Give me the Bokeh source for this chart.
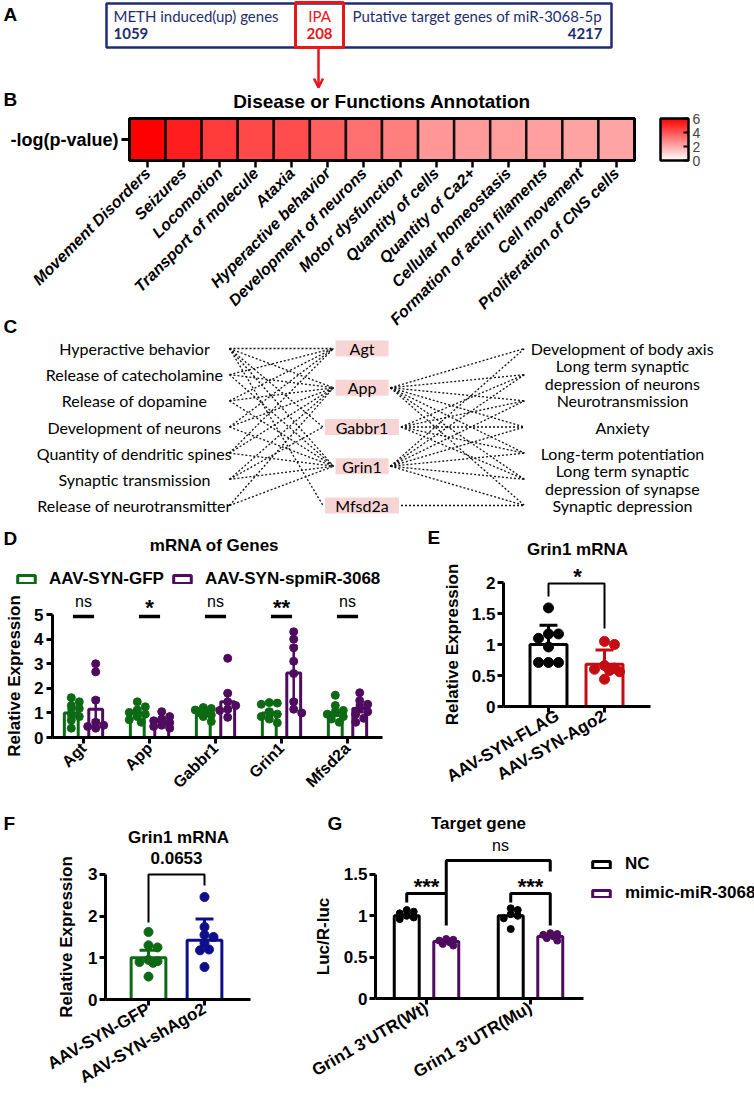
import math
import numpy as np
from bokeh.plotting import figure
from bokeh.models import (Range1d, FixedTicker, ColumnDataSource, LinearColorMapper, LinearAxis,
                          ColorBar, Legend, LegendItem, Arrow, OpenHead, AllLabels)
from bokeh.layouts import column, row
from bokeh.transform import transform
from bokeh.embed import file_html
from bokeh.resources import INLINE
from bokeh.core.properties import value

# ---------------------------------------------------------------- data
venn_sets = ["METH induced(up)  genes", "IPA", "Putative target genes of miR-3068-5p"]
venn_counts = [1059, 208, 4217]

annot_title = "Disease or Functions Annotation"
annot_row = "-log(p-value)"
annot_terms = ["Movement Disorders", "Seizures", "Locomotion", "Transport of molecule", "Ataxia",
               "Hyperactive behavior", "Development of neurons", "Motor dysfunction",
               "Quantity of cells", "Quantity of Ca2+", "Cellular homeostasis",
               "Formation of actin filaments", "Cell movement", "Proliferation of CNS cells"]
annot_logp = [6.0, 5.3, 4.6, 4.3, 4.2, 3.75, 3.35, 3.0, 2.45, 2.35, 2.3, 2.25, 2.2, 2.15]

net_left_terms = ["Hyperactive behavior", "Release of catecholamine", "Release of dopamine",
                  "Development of neurons", "Quantity of dendritic spines",
                  "Synaptic transmission", "Release of neurotransmitter"]
net_genes = ["Agt", "App", "Gabbr1", "Grin1", "Mfsd2a"]
net_right_terms = ["Development of body axis", "Long term synaptic\ndepression of neurons",
                   "Neurotransmission", "Anxiety", "Long-term potentiation",
                   "Long term synaptic\ndepression of synapse", "Synaptic depression"]
net_left_edges = [(0, 0), (0, 1), (0, 2), (0, 3), (0, 4), (1, 0), (1, 1), (1, 3), (2, 0), (2, 1),
                  (2, 3), (3, 0), (3, 1), (3, 3), (4, 0), (4, 1), (4, 3), (5, 1), (5, 2), (5, 3),
                  (6, 1), (6, 3)]
net_right_edges = [(1, 0), (1, 1), (1, 2), (1, 3), (1, 4), (1, 5), (1, 6),
                   (2, 1), (2, 2), (2, 3), (2, 4), (2, 5),
                   (3, 0), (3, 1), (3, 2), (3, 3), (3, 4), (3, 5), (3, 6),
                   (4, 6)]

d_title = "mRNA of Genes"
d_genes = ["Agt", "App", "Gabbr1", "Grin1", "Mfsd2a"]
d_groups = ["AAV-SYN-GFP", "AAV-SYN-spmiR-3068"]
d_gfp_mean = [1.0, 1.0, 1.0, 1.0, 1.0]
d_gfp_err = [0.15, 0.1, 0.06, 0.12, 0.12]
d_spmir_mean = [1.15, 0.65, 1.45, 2.62, 1.18]
d_spmir_err = [0.45, 0.1, 0.35, 1.1, 0.15]
d_gfp_pts = [[1.62, 1.45, 1.3, 1.18, 0.98, 0.85, 0.7, 0.38],
             [1.45, 1.25, 1.12, 1.02, 0.95, 0.85, 0.72, 0.62],
             [1.22, 1.18, 1.12, 1.05, 1.0, 0.92, 0.85, 0.65],
             [1.42, 1.4, 1.35, 1.05, 0.95, 0.85, 0.75, 0.6],
             [1.72, 1.3, 1.1, 1.0, 0.95, 0.85, 0.75, 0.62]]
d_spmir_pts = [[3.0, 2.67, 1.52, 0.62, 0.5, 0.45, 0.38],
               [1.05, 0.85, 0.75, 0.68, 0.6, 0.5, 0.45, 0.38],
               [3.22, 1.8, 1.45, 1.3, 1.15, 1.1, 0.82],
               [4.3, 4.0, 3.65, 3.1, 2.6, 1.45, 1.15, 1.0],
               [1.82, 1.5, 1.35, 1.2, 1.05, 0.95, 0.78, 0.62]]
d_sig = ["ns", "*", "ns", "**", "ns"]

e_title = "Grin1 mRNA"
e_groups = ["AAV-SYN-FLAG", "AAV-SYN-Ago2"]
e_mean = [1.0, 0.68]
e_err = [0.31, 0.23]
e_pts = [[1.59, 1.17, 1.17, 1.1, 0.96, 0.71, 0.71, 0.71],
         [1.05, 1.0, 0.66, 0.62, 0.6, 0.58, 0.56, 0.44]]
e_sig = "*"

f_title = "Grin1 mRNA"
f_groups = ["AAV-SYN-GFP", "AAV-SYN-shAgo2"]
f_mean = [1.0, 1.42]
f_err = [0.18, 0.51]
f_pts = [[1.62, 1.3, 1.25, 0.95, 0.92, 0.9, 0.88, 0.55],
         [2.46, 1.74, 1.55, 1.5, 1.35, 1.2, 1.18, 0.78]]
f_p = "0.0653"

g_title = "Target gene"
g_cats = ["Grin1 3'UTR(Wt)", "Grin1 3'UTR(Mu)"]
g_series = ["NC", "mimic-miR-3068"]
g_nc_mean = [1.0, 1.0]
g_mimic_mean = [0.69, 0.75]
g_nc_pts = [[1.07, 1.05, 1.03, 1.0, 0.98, 0.96], [1.09, 1.07, 1.02, 1.0, 0.97, 0.84]]
g_mimic_pts = [[0.72, 0.71, 0.7, 0.68, 0.66, 0.64], [0.79, 0.78, 0.77, 0.75, 0.73, 0.7]]
g_sig_within = ["***", "***"]
g_sig_between = "ns"

# ---------------------------------------------------------------- style
ARIAL = "Liberation Sans"
CAL = "Lato"
GREEN = "#0c6a14"
PURPLE = "#4e0b5f"
RED_E = "#c40c12"
BLUE_F = "#0e0e8a"
NAVY = "#1f2d6e"
RED_A = "#e8151b"
PINK = "#f8d5d5"


def canvas(X0, X1, Y0, Y1, ax=0.0, bx=1.0, ay=0.0, by=-1.0):
    """Figure whose frame is the whole canvas; data x -> px = ax + bx*x, y -> py = ay - by*y."""
    xr = Range1d((X0 - ax) / bx, (X1 - ax) / bx)
    yr = Range1d((ay - Y1) / by, (ay - Y0) / by)
    p = figure(width=X1 - X0, height=Y1 - Y0, x_range=xr, y_range=yr, output_backend="svg",
               toolbar_location=None, min_border=0, x_axis_location=None, y_axis_location=None)
    p.xgrid.visible = False
    p.ygrid.visible = False
    p.outline_line_color = None
    fx = lambda px: (px - ax) / bx
    fy = lambda py: (ay - py) / by
    return p, fx, fy


def axis_style(ax, size="17px", style="bold"):
    ax.axis_line_width = 3
    ax.axis_line_color = "black"
    ax.major_tick_line_width = 3
    ax.major_tick_line_color = "black"
    ax.major_tick_out = 6
    ax.major_tick_in = 0
    ax.minor_tick_line_color = None
    ax.major_label_text_font = ARIAL
    ax.major_label_text_font_size = size
    ax.major_label_text_font_style = style
    ax.major_label_text_color = "black"
    ax.axis_label_text_font = ARIAL
    ax.axis_label_text_font_size = "17px"
    ax.axis_label_text_font_style = "bold"
    ax.axis_label_text_color = "black"
    ax.major_label_policy = AllLabels()


def chart_axes(p, y_at_x, x_bounds, y_bounds, xticks, xlabels, yticks, ylabel, angle,
               x_size="17px", y_lab_standoff=8, y_tick_standoff=2, x_tick_standoff=2):
    xa = LinearAxis(fixed_location=0, bounds=x_bounds, ticker=FixedTicker(ticks=xticks),
                    major_label_overrides={t: l for t, l in zip(xticks, xlabels)},
                    major_label_orientation=angle)
    axis_style(xa, size=x_size)
    xa.major_label_standoff = x_tick_standoff
    ya = LinearAxis(fixed_location=y_at_x, bounds=y_bounds, ticker=FixedTicker(ticks=yticks),
                    axis_label=ylabel)
    axis_style(ya)
    ya.major_label_standoff = y_tick_standoff
    ya.axis_label_standoff = y_lab_standoff
    p.add_layout(xa, "below")
    p.add_layout(ya, "left")


def put_text(p, fx, fy, px, py, text, size="17px", style="bold", align="center", font=ARIAL,
             color="black"):
    p.text(x=[fx(px)], y=[fy(py)], text=[text], text_font=value(font), text_font_size=size,
           text_font_style=style, text_align=align, text_baseline="middle", text_color=color)


def letter(p, fx, fy, px, py, text):
    put_text(p, fx, fy, px, py, text, size="19px", align="left")


def swarm(vals, ppu_x, ppu_y, diam, half_px):
    order = sorted(range(len(vals)), key=lambda i: -vals[i])
    placed = []
    offs = [0.0] * len(vals)
    step = diam * 0.5
    cands = [0.0]
    m = 1
    while m * step <= half_px + 1e-9:
        cands += [m * step, -m * step]
        m += 1
    for i in order:
        y = vals[i] * ppu_y
        best, best_d = 0.0, -1.0
        for c in cands:
            ds = [math.hypot(c - px, y - py) for px, py in placed]
            dmin = min(ds) if ds else 1e9
            if dmin >= diam * 0.8:
                best = c
                break
            if dmin > best_d:
                best_d, best = dmin, c
        placed.append((best, y))
        offs[i] = best / ppu_x
    return offs


def dots(p, center, vals, ppu_x, ppu_y, diam, half_px, color):
    offs = swarm(vals, ppu_x, ppu_y, diam, half_px)
    p.scatter(x=[center + o for o in offs], y=vals, size=diam, marker="circle",
              fill_color=color, line_color=color)


def errbars(p, xs, means, errs, colors, cap, lw=3, both=False):
    lo = [m - e for m, e in zip(means, errs)] if both else list(means)
    hi = [m + e for m, e in zip(means, errs)]
    p.segment(x0=xs, x1=xs, y0=lo, y1=hi, line_color=colors, line_width=lw)
    p.segment(x0=[x - cap for x in xs], x1=[x + cap for x in xs], y0=hi, y1=hi,
              line_color=colors, line_width=lw)
    if both:
        p.segment(x0=[x - cap for x in xs], x1=[x + cap for x in xs], y0=lo, y1=lo,
                  line_color=colors, line_width=lw)


# ---------------------------------------------------------------- panel A
A_Y1 = 88
pA, fxA, fyA = canvas(0, 754, 0, A_Y1)
BOX_L, BOX_R, BOX_T, BOX_B = 106, 611, 3, 47
IPA_L, IPA_R = 295, 343
IPA_C = (IPA_L + IPA_R) / 2
pA.quad(left=[BOX_L], right=[BOX_R], top=[BOX_T], bottom=[BOX_B], fill_color=None,
        line_color=NAVY, line_width=2.5)
pA.quad(left=[IPA_L], right=[IPA_R], top=[BOX_T - 1], bottom=[BOX_B], fill_color=None,
        line_color=RED_A, line_width=3)
ROW1, ROW2 = 15, 33
put_text(pA, fxA, fyA, BOX_L + 7, ROW1, venn_sets[0], "15px", "normal", "left", CAL, NAVY)
put_text(pA, fxA, fyA, BOX_L + 7, ROW2, str(venn_counts[0]), "15px", "bold", "left", CAL, NAVY)
put_text(pA, fxA, fyA, IPA_C, ROW1, venn_sets[1], "15px", "normal", "center", CAL, RED_A)
put_text(pA, fxA, fyA, IPA_C, ROW2, str(venn_counts[1]), "15px", "bold", "center", CAL, RED_A)
put_text(pA, fxA, fyA, IPA_R + 9, ROW1, venn_sets[2], "15px", "normal", "left", CAL, NAVY)
put_text(pA, fxA, fyA, BOX_R - 9, ROW2, str(venn_counts[2]), "15px", "bold", "right", CAL, NAVY)
letter(pA, fxA, fyA, 3, 14, "A")
pA.add_layout(Arrow(x_start=IPA_C - 1, y_start=BOX_B, x_end=IPA_C - 1, y_end=A_Y1 - 1,
                    line_color=RED_A, line_width=2.5,
                    end=OpenHead(size=9, line_color=RED_A, line_width=2.5)))

# ---------------------------------------------------------------- panel B
B_X0, B_CELL, B_YBOT, B_CELLH = 129, 36.07, 160, 42
B_Y1 = 338
pB, fxB, fyB = canvas(0, 754, A_Y1, B_Y1, ax=B_X0, bx=B_CELL, ay=B_YBOT, by=B_CELLH)
nB = len(annot_terms)
palette = ["#%02x%02x%02x" % (255, int(round(255 * (1 - t))), int(round(255 * (1 - t))))
           for t in np.linspace(0, 1, 256)]
mapper = LinearColorMapper(palette=palette, low=0, high=6)
srcB = ColumnDataSource(dict(x=[i + 0.5 for i in range(nB)], y=[0.5] * nB, v=annot_logp))
pB.rect(x="x", y="y", width=1, height=1, source=srcB, fill_color=transform("v", mapper),
        line_color="#111111", line_width=2.5)
pB.quad(left=[0], right=[nB], bottom=[0], top=[1], fill_color=None, line_color="black",
        line_width=3)
xaB = LinearAxis(fixed_location=0, bounds=(0, nB),
                 ticker=FixedTicker(ticks=[i + 0.5 for i in range(nB)]),
                 major_label_overrides={i + 0.5: t for i, t in enumerate(annot_terms)},
                 major_label_orientation=math.pi / 4)
axis_style(xaB, size="16px", style="bold italic")
xaB.axis_line_color = None
xaB.major_tick_out = 7
xaB.major_tick_line_width = 2.5
xaB.major_label_standoff = 3
yaB = LinearAxis(fixed_location=0, bounds=(0, 1), ticker=FixedTicker(ticks=[0.5]),
                 major_label_overrides={0.5: annot_row})
axis_style(yaB, size="18px")
yaB.axis_line_color = None
yaB.major_tick_out = 8
yaB.major_label_standoff = 3
pB.add_layout(xaB, "below")
pB.add_layout(yaB, "left")
cb = ColorBar(color_mapper=mapper, location=(660, B_Y1 - B_YBOT), width=28, height=B_CELLH,
              padding=0, margin=0, ticker=FixedTicker(ticks=[0, 2, 4, 6]),
              major_label_policy=AllLabels(), major_label_text_font=ARIAL,
              major_label_text_font_size="14px", major_tick_line_color="black",
              major_tick_line_width=2, major_tick_in=5, major_tick_out=0,
              bar_line_color="black", bar_line_width=2.5, label_standoff=4,
              background_fill_alpha=0, border_line_color=None)
pB.add_layout(cb)
put_text(pB, fxB, fyB, B_X0 + B_CELL * nB / 2, 101, annot_title, size="19px")
letter(pB, fxB, fyB, 3, 99, "B")
letter(pB, fxB, fyB, 3, 326, "C")

# ---------------------------------------------------------------- panel C
pC, fxC, fyC = canvas(0, 754, B_Y1, 520, ay=0, by=-1)
L_X_TEXT, L_X_END = 134, 229
G_X = 361.5
R_X_END, R_X_TEXT = 524, 622
Y_TOP, Y_BOT = 348, 505


def spread(n):
    return [Y_TOP + (Y_BOT - Y_TOP) * i / (n - 1) for i in range(n)]


ly = spread(len(net_left_terms))
gy = spread(len(net_genes))
ry = spread(len(net_right_terms))
gw = [74 if len(g) >= 6 else 53 for g in net_genes]
seg_x0, seg_y0, seg_x1, seg_y1 = [], [], [], []
for a, b in net_left_edges:
    seg_x0.append(L_X_END); seg_y0.append(ly[a])
    seg_x1.append(G_X - gw[b] / 2 - 2); seg_y1.append(gy[b])
for a, b in net_right_edges:
    seg_x0.append(G_X + gw[a] / 2 + 2); seg_y0.append(gy[a])
    seg_x1.append(R_X_END); seg_y1.append(ry[b])
pC.segment(x0=seg_x0, y0=seg_y0, x1=seg_x1, y1=seg_y1, line_color="#111111", line_width=1.3,
           line_dash="2 2")
pC.rect(x=[G_X] * len(net_genes), y=gy, width=gw, height=[16] * len(net_genes), fill_color=PINK,
        line_color=None)
pC.text(x=[G_X] * len(net_genes), y=gy, text=net_genes, text_font=value(CAL),
        text_font_size="16px", text_align="center", text_baseline="middle", text_color="black")
pC.text(x=[L_X_TEXT] * len(net_left_terms), y=ly, text=net_left_terms, text_font=value(CAL),
        text_font_size="16px", text_align="center", text_baseline="middle", text_color="black")
pC.text(x=[R_X_TEXT] * len(net_right_terms), y=ry, text=net_right_terms, text_font=value(CAL),
        text_font_size="16px", text_align="center", text_baseline="middle", text_color="black",
        text_line_height=0.95)

# ---------------------------------------------------------------- panel D
D_X1 = 443
D_PX, D_PY = 66, 24.58
pD, fxD, fyD = canvas(0, D_X1, 520, 800, ax=83, bx=D_PX, ay=737, by=D_PY)
D_OFF, D_W = 0.185, 0.21
idx = list(range(len(d_genes)))
xg = [i - D_OFF for i in idx]
xs_ = [i + D_OFF for i in idx]
bar_g = pD.vbar(x=xg, top=d_gfp_mean, width=D_W, fill_color="white", line_color=GREEN,
                line_width=3)
bar_s = pD.vbar(x=xs_, top=d_spmir_mean, width=D_W, fill_color="white", line_color=PURPLE,
                line_width=3)
errbars(pD, xg, d_gfp_mean, d_gfp_err, [GREEN] * 5, 0.06, lw=2.5, both=True)
errbars(pD, xs_, d_spmir_mean, d_spmir_err, [PURPLE] * 5, 0.06, lw=2.5, both=True)
for i in idx:
    dots(pD, xg[i], d_gfp_pts[i], D_PX, D_PY, 8, 8, GREEN)
    dots(pD, xs_[i], d_spmir_pts[i], D_PX, D_PY, 8, 8, PURPLE)
pD.segment(x0=[i - 0.16 for i in idx], x1=[i + 0.16 for i in idx], y0=[fyD(616)] * len(idx),
           y1=[fyD(616)] * len(idx), line_color="black", line_width=3.5)
ns_i = [i for i in idx if d_sig[i] == "ns"]
st_i = [i for i in idx if d_sig[i] != "ns"]
pD.text(x=ns_i, y=[fyD(601)] * len(ns_i), text=[d_sig[i] for i in ns_i], text_font=value(ARIAL),
        text_font_size="16px", text_align="center", text_baseline="middle")
pD.text(x=st_i, y=[fyD(607)] * len(st_i), text=[d_sig[i] for i in st_i], text_font=value(ARIAL),
        text_font_size="22px", text_font_style="bold", text_align="center",
        text_baseline="middle")
chart_axes(pD, fxD(52), (fxD(52), fxD(382)), (0, 5), idx, d_genes, [0, 1, 2, 3, 4, 5],
           "Relative Expression", math.pi / 4, x_size="16px", y_lab_standoff=7,
           y_tick_standoff=3)
legD = Legend(items=[LegendItem(label=d_groups[0], renderers=[bar_g]),
                     LegendItem(label=d_groups[1], renderers=[bar_s])],
              orientation="horizontal", location=(15, 800 - 589), glyph_width=22,
              glyph_height=10, label_standoff=12, spacing=7, padding=0, margin=0,
              border_line_color=None, background_fill_alpha=0, label_text_font=ARIAL,
              label_text_font_size="17px", label_text_font_style="bold", label_height=20,
              label_text_color="black")
pD.add_layout(legD)
put_text(pD, fxD, fyD, 214, 545, d_title)
letter(pD, fxD, fyD, 3, 538, "D")
letter(pD, fxD, fyD, 427, 537, "E")

# ---------------------------------------------------------------- panel E
E_PX, E_PY = 56, 62
pE, fxE, fyE = canvas(D_X1, 754, 520, 800, ax=548, bx=E_PX, ay=706, by=E_PY)
e_cols = ["black", RED_E]
pE.vbar(x=[0, 1], top=e_mean, width=0.66, fill_color="white", line_color=e_cols, line_width=3)
errbars(pE, [0, 1], e_mean, e_err, e_cols, 0.16)
for i in range(2):
    dots(pE, i, e_pts[i], E_PX, E_PY, 10, 16, e_cols[i])
pE.multi_line(xs=[[0, 0, 1, 1]], ys=[[fyE(596), fyE(583), fyE(583), fyE(628)]],
              line_color="black", line_width=2)
put_text(pE, fxE, fyE, 577, 576, e_sig, size="22px")
chart_axes(pE, fxE(503), (fxE(503), fxE(650)), (0, 2), [0, 1], e_groups,
           [0, 0.5, 1.0, 1.5, 2.0], "Relative Expression", math.pi / 6, y_lab_standoff=7)
put_text(pE, fxE, fyE, 577, 549, e_title)

# ---------------------------------------------------------------- panel F
F_PX, F_PY = 56, 41.67
pF, fxF, fyF = canvas(0, 290, 800, 1100, ax=148, bx=F_PX, ay=999, by=F_PY)
f_cols = [GREEN, BLUE_F]
pF.vbar(x=[0, 1], top=f_mean, width=0.62, fill_color="white", line_color=f_cols, line_width=3)
errbars(pF, [0, 1], f_mean, f_err, f_cols, 0.16)
for i in range(2):
    dots(pF, i, f_pts[i], F_PX, F_PY, 9, 16, f_cols[i])
pF.multi_line(xs=[[0, 0, 1, 1]], ys=[[fyF(922), fyF(874), fyF(874), fyF(885)]],
              line_color="black", line_width=2)
put_text(pF, fxF, fyF, 176, 857, f_p)
chart_axes(pF, fxF(105), (fxF(105), fxF(250)), (0, 3), [0, 1], f_groups, [0, 1, 2, 3],
           "Relative Expression", math.pi / 6, y_lab_standoff=9)
put_text(pF, fxF, fyF, 178, 837, f_title)
letter(pF, fxF, fyF, 3, 823, "F")

# ---------------------------------------------------------------- panel G
G_PX, G_PY = 104, 82.7
pG, fxG, fyG = canvas(290, 754, 800, 1100, ax=426, bx=G_PX, ay=998, by=G_PY)
G_OFF, G_W = 0.19, 0.24
bar_nc = pG.vbar(x=[i - G_OFF for i in range(2)], top=g_nc_mean, width=G_W, fill_color="white",
                 line_color="black", line_width=3)
bar_mi = pG.vbar(x=[i + G_OFF for i in range(2)], top=g_mimic_mean, width=G_W,
                 fill_color="white", line_color=PURPLE, line_width=3)
for i in range(2):
    dots(pG, i - G_OFF, g_nc_pts[i], G_PX, G_PY, 7, 10, "black")
    dots(pG, i + G_OFF, g_mimic_pts[i], G_PX, G_PY, 7, 10, PURPLE)
br_lo, br_top, br_right = fyG(902), fyG(893), fyG(925)
pG.multi_line(xs=[[i - G_OFF, i - G_OFF, i + G_OFF, i + G_OFF] for i in range(2)],
              ys=[[br_lo, br_top, br_top, br_right]] * 2, line_color="black", line_width=3)
pG.multi_line(xs=[[G_OFF, G_OFF, 1 + G_OFF, 1 + G_OFF]],
              ys=[[br_top, fyG(860), fyG(860), fyG(871)]], line_color="black", line_width=3)
pG.text(x=[0, 1], y=[fyG(886)] * 2, text=g_sig_within, text_font=value(ARIAL),
        text_font_size="22px", text_font_style="bold", text_align="center",
        text_baseline="middle")
put_text(pG, fxG, fyG, 500, 845, g_sig_between, size="16px", style="normal")
chart_axes(pG, fxG(375), (fxG(375), fxG(583)), (0, 1.5), [0, 1], g_cats,
           [0, 0.5, 1.0, 1.5], "Luc/R-luc", math.pi / 6, y_lab_standoff=8)
legG = Legend(items=[LegendItem(label=g_series[0], renderers=[bar_nc]),
                     LegendItem(label=g_series[1], renderers=[bar_mi])],
              orientation="vertical", location=(590 - 290, 1100 - 903), glyph_width=22,
              glyph_height=9, label_standoff=13, spacing=9, padding=0, margin=0,
              border_line_color=None, background_fill_alpha=0, label_text_font=ARIAL,
              label_text_font_size="17px", label_text_font_style="bold", label_height=20,
              label_text_color="black")
pG.add_layout(legG)
put_text(pG, fxG, fyG, 478, 823, g_title)
letter(pG, fxG, fyG, 327, 823, "G")

# ---------------------------------------------------------------- layout
root = column(pA, pB, pC, row(pD, pE), row(pF, pG))
open("out.html", "w").write(file_html(root, INLINE))
